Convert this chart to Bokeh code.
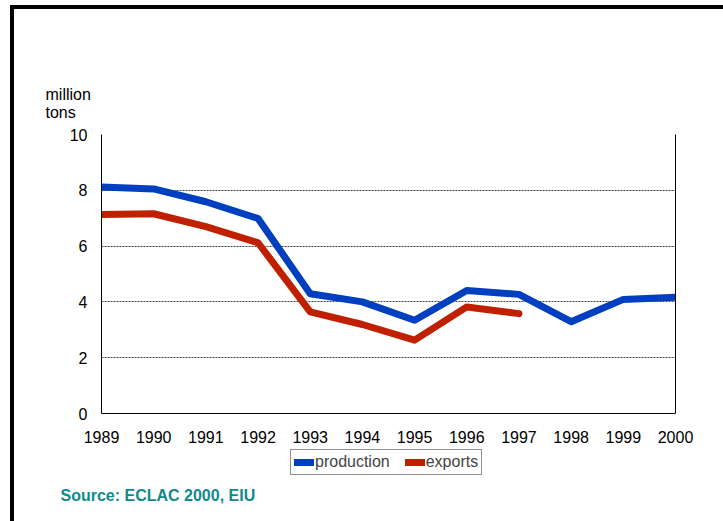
from bokeh.plotting import figure
from bokeh.models import Range1d, LinearAxis, Legend, LegendItem, Title, FixedTicker
from bokeh.layouts import column
from bokeh.embed import file_html
from bokeh.resources import INLINE

years = [1989, 1990, 1991, 1992, 1993, 1994, 1995, 1996, 1997, 1998, 1999, 2000]
production = [8.12, 8.05, 7.59, 6.99, 4.29, 4.00, 3.34, 4.41, 4.27, 3.29, 4.09, 4.17]
export_years = [1989, 1990, 1991, 1992, 1993, 1994, 1995, 1996, 1997]
exports = [7.13, 7.16, 6.70, 6.12, 3.64, 3.19, 2.63, 3.82, 3.58]
y_ticks = [0, 2, 4, 6, 8, 10]

FONT = "Liberation Sans"
BLUE = "#0040C0"
RED = "#C02000"

# main chart
p = figure(width=709, height=436, output_backend="svg", toolbar_location=None,
           x_range=Range1d(1989, 2000), y_range=Range1d(0, 10), title=None,
           min_border_left=87, min_border_top=125, min_border_right=48,
           min_border_bottom=29)
p.outline_line_color = None
p.background_fill_color = "white"
p.border_fill_color = "white"

unit_title = Title(text="million\ntons", align="left", offset=-56, text_font=FONT,
                   text_font_size="16px", text_font_style="normal", text_color="black",
                   text_line_height=1.1, standoff=26)
p.add_layout(unit_title, "above")

p.xaxis.ticker = FixedTicker(ticks=years)
p.yaxis.ticker = FixedTicker(ticks=y_ticks)
for ax in (p.xaxis[0], p.yaxis[0]):
    ax.major_tick_line_color = None
    ax.minor_tick_line_color = None
    ax.axis_line_color = "black"
    ax.axis_line_width = 1
    ax.major_label_text_font = FONT
    ax.major_label_text_font_size = "16px"
    ax.major_label_text_color = "black"
p.xaxis.major_label_standoff = 11
p.yaxis.major_label_standoff = 8

right = LinearAxis(ticker=FixedTicker(ticks=[]), major_label_text_font_size="0px",
                   major_tick_line_color=None, minor_tick_line_color=None,
                   axis_line_color="black")
p.add_layout(right, "right")

p.xgrid.grid_line_color = None
p.ygrid.grid_line_color = "#444444"
p.ygrid.grid_line_dash = "2 1"
p.ygrid.grid_line_width = 1

p.line(years, production, line_color=BLUE, line_width=7, line_cap="round", line_join="round")
p.line(export_years, exports, line_color=RED, line_width=7, line_cap="round", line_join="round")

# legend + source strip (its lines lie outside its range; they only feed the legend)
q = figure(width=709, height=76, output_backend="svg", toolbar_location=None,
           x_range=Range1d(0, 1), y_range=Range1d(0, 1), title=None,
           x_axis_location=None, y_axis_location=None,
           min_border_left=87, min_border_right=48, min_border_top=0, min_border_bottom=37)
q.outline_line_color = None
q.grid.visible = False
q.background_fill_color = "white"
q.border_fill_color = "white"

lr1 = q.line(years, production, line_color=BLUE, line_width=7, line_cap="round")
lr2 = q.line(export_years, exports, line_color=RED, line_width=7, line_cap="round")

legend = Legend(items=[LegendItem(label="production", renderers=[lr1]),
                       LegendItem(label="exports", renderers=[lr2])],
                orientation="horizontal", location=(189, 9),
                label_text_font=FONT, label_text_font_size="16px",
                border_line_color="#222222", border_line_width=1,
                glyph_width=20, label_standoff=1, spacing=15, padding=3,
                margin=0, label_height=18, glyph_height=18)
q.add_layout(legend, "center")

src = Title(text="Source: ECLAC 2000, EIU", align="left", offset=-41,
            text_font=FONT, text_font_size="16px", text_font_style="bold",
            text_color="#108A8A", standoff=0)
q.add_layout(src, "below")

page = column(p, q, spacing=0,
              styles={"margin-left": "10px", "margin-top": "5px",
                      "border-left": "4px solid black", "border-top": "4px solid black"})

open("out.html", "w").write(file_html(page, INLINE))
